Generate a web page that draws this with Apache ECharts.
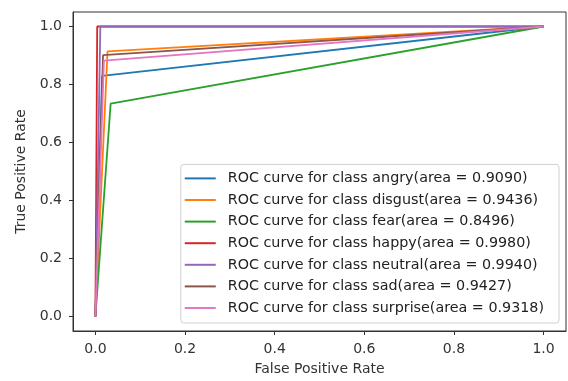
<!DOCTYPE html>
<html>
<head>
<meta charset="utf-8">
<script src="https://cdn.jsdelivr.net/npm/echarts@6/dist/echarts.min.js"></script>
<style>
html,body{margin:0;padding:0;background:#fff;}
#chart{width:568px;height:381px;}
</style>
</head>
<body>
<div id="chart"></div>
<script>
var classes = ['angry', 'disgust', 'fear', 'happy', 'neutral', 'sad', 'surprise'];
var areas = ['0.9090', '0.9436', '0.8496', '0.9980', '0.9940', '0.9427', '0.9318'];
var fprMid = [0.015, 0.027, 0.034, 0.004, 0.011, 0.017, 0.019];
var tprMid = [0.830, 0.914, 0.734, 1.000, 1.000, 0.901, 0.882];
var colors = ['#1f77b4', '#ff7f0e', '#2ca02c', '#d62728', '#9467bd', '#8c564b', '#e377c2'];
var tickValues = [0, 0.2, 0.4, 0.6, 0.8, 1.0];

var FONT = 'DejaVu Sans';
var series = classes.map(function (c, i) {
  return {
    name: 'ROC curve for class ' + c + '(area = ' + areas[i] + ')',
    type: 'line',
    data: [[0, 0], [fprMid[i], tprMid[i]], [1, 1]],
    symbol: 'none',
    lineStyle: { width: 1.8, color: colors[i] },
    itemStyle: { color: colors[i] },
    z: 2 + i
  };
});

function axisCommon(name, isX) {
  return {
    type: 'value',
    min: -0.05,
    max: 1.05,
    name: name,
    nameLocation: 'middle',
    nameGap: isX ? 31 : 45,
    nameTextStyle: { fontFamily: FONT, fontSize: 14, color: '#333' },
    axisLine: { show: true, onZero: false, lineStyle: { color: '#333', width: 1 } },
    axisTick: { show: true, length: 4, customValues: tickValues, lineStyle: { color: '#333' } },
    axisLabel: {
      customValues: tickValues,
      margin: isX ? 11 : 11,
      fontFamily: FONT, fontSize: 14, color: '#333',
      formatter: function (v) { return v.toFixed(1); }
    },
    splitLine: { show: false }
  };
}

var chart = echarts.init(document.getElementById('chart'), null, { renderer: 'canvas' });
chart.setOption({
  animation: false,
  backgroundColor: '#fff',
  color: colors,
  grid: {
    left: 73, right: 2, top: 12, bottom: 49,
    show: true, borderColor: '#333', borderWidth: 1
  },
  xAxis: axisCommon('False Positive Rate', true),
  yAxis: axisCommon('True Positive Rate', false),
  legend: {
    orient: 'vertical',
    right: 9,
    bottom: 58,
    padding: [7, 15, 8, 4],
    itemWidth: 31,
    itemHeight: 2,
    itemGap: 7.6,
    icon: 'rect',
    backgroundColor: 'rgba(255,255,255,0.85)',
    borderColor: '#d0d0d0',
    borderWidth: 1,
    borderRadius: 3,
    textStyle: { fontFamily: FONT, fontSize: 14.3, color: '#222', lineHeight: 14, padding: [0, 0, 0, 7] },
    data: series.map(function (s) { return s.name; })
  },
  series: series
});
</script>
</body>
</html>
